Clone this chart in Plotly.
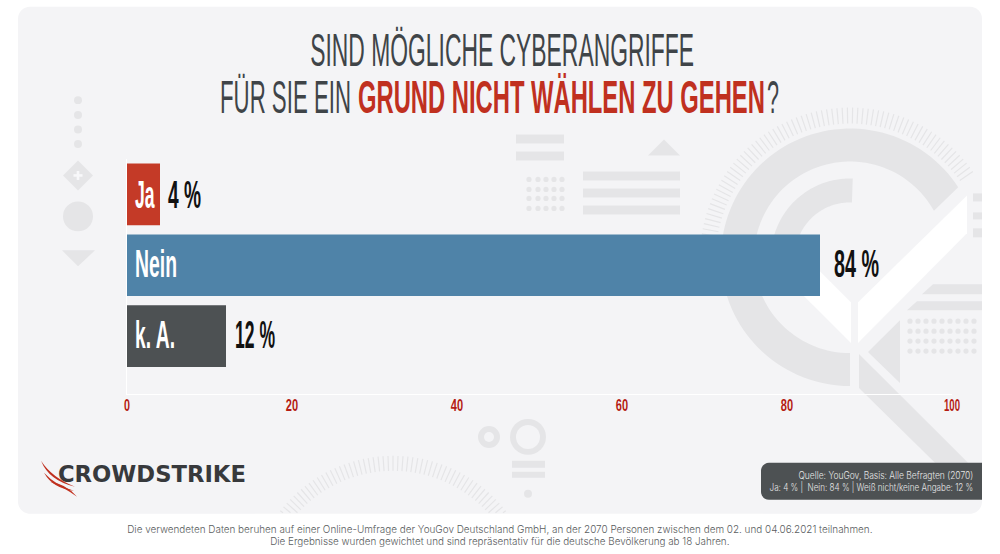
import json
import numpy as np
import plotly.graph_objects as go

W, H = 1000, 554

# chart data
categories = ['Ja', 'Nein', 'k. A.']
values = [4, 84, 12]
value_labels = ['4 %', '84 %', '12 %']
bar_colors = ['#c43a27', '#4f83a8', '#4d5153']
tick_vals = [0, 20, 40, 60, 80, 100]

# plot area in pixels
L, R, T, B = 127, 952, 158.5, 394

DECO = '#e5e5e7'
RED = '#c0301f'
GREY = '#3f4448'
COND = 'Liberation Sans'


def px(x):
    return (x - L) / (R - L)


def py(y):
    return (B - y) / (B - T)


def P(*pts):
    # closed polygon path from pixel points, paper coordinates
    return 'M' + ' L'.join(f'{px(x):.5f},{py(y):.5f}' for x, y in pts) + ' Z'


def ring(cx, cy, r_out, r_in, a0_out, a0_in, a1):
    # ring segment, angles in degrees, counter clockwise from a0 to a1
    out = [(cx + r_out * np.cos(np.radians(a)), cy - r_out * np.sin(np.radians(a)))
           for a in np.linspace(a0_out, a1, 90)]
    inn = [(cx + r_in * np.cos(np.radians(a)), cy - r_in * np.sin(np.radians(a)))
           for a in np.linspace(a1, a0_in, 90)]
    return P(*(out + inn))


def tick_fan(cx, cy, r_out, r_in, a0, a1, step, y_max=None):
    parts = []
    for a in np.arange(a0, a1, step):
        c, s = np.cos(np.radians(a)), np.sin(np.radians(a))
        if y_max is not None and cy - r_out * s > y_max:
            continue
        y2 = cy - r_in * s
        x2 = cx + r_in * c
        if y_max is not None and y2 > y_max:
            k = (cy - y_max) / s
            x2, y2 = cx + k * c, y_max
        parts.append(f'M{px(cx + r_out * c):.5f},{py(cy - r_out * s):.5f} L{px(x2):.5f},{py(y2):.5f}')
    return ' '.join(parts)


def rounded(x0, y0, x1, y1, rad, right=True):
    # rounded box, right=False leaves the right corners square
    k = rad * 0.45
    pts = f'M{px(x0 + rad)},{py(y0)} '
    if right:
        pts += f'L{px(x1 - rad)},{py(y0)} C{px(x1 - k)},{py(y0)} {px(x1)},{py(y0 + k)} {px(x1)},{py(y0 + rad)} '
        pts += f'L{px(x1)},{py(y1 - rad)} C{px(x1)},{py(y1 - k)} {px(x1 - k)},{py(y1)} {px(x1 - rad)},{py(y1)} '
    else:
        pts += f'L{px(x1)},{py(y0)} L{px(x1)},{py(y1)} '
    pts += f'L{px(x0 + rad)},{py(y1)} C{px(x0 + k)},{py(y1)} {px(x0)},{py(y1 - k)} {px(x0)},{py(y1 - rad)} '
    pts += f'L{px(x0)},{py(y0 + rad)} C{px(x0)},{py(y0 + k)} {px(x0 + k)},{py(y0)} {px(x0 + rad)},{py(y0)} Z'
    return pts


shapes = []


def fill(path, color=DECO):
    shapes.append(dict(type='path', path=path, xref='paper', yref='paper', fillcolor=color,
                       line=dict(width=0), layer='below'))


def stroke(path, color=DECO, width=1.2):
    shapes.append(dict(type='path', path=path, xref='paper', yref='paper',
                       line=dict(color=color, width=width), layer='below'))


def rect(x0, y0, x1, y1, color=DECO):
    fill(P((x0, y0), (x1, y0), (x1, y1), (x0, y1)), color)


def circle(cx, cy, r, color=DECO):
    shapes.append(dict(type='circle', xref='paper', yref='paper', x0=px(cx - r), x1=px(cx + r),
                       y0=py(cy + r), y1=py(cy - r), fillcolor=color, line=dict(width=0), layer='below'))


# card behind everything
fill(rounded(18, 6, 982, 514, 12), '#f4f4f6')

# left column of small icons
for y in [99.5, 114.5, 129, 143.5]:
    circle(78, y, 4)
fill(P((78, 160), (93, 175), (78, 190), (63, 175)))
rect(73.5, 173.7, 82.5, 176.3, '#f8f8fa')
rect(76.7, 170.5, 79.3, 179.5, '#f8f8fa')
circle(78, 216, 15)
fill(P((62, 250), (95, 250), (78, 266)))

# block above the bars
rect(516, 134, 564, 143)
rect(516, 151, 564, 160)
fill(P((648, 155), (680, 155), (664, 139)))
for y0 in [171, 188, 205]:
    rect(583, y0, 680, y0 + 9)
for y in [179, 189, 198, 208]:
    for x in [529, 538, 546, 554, 562]:
        circle(x, y, 2.6)

# big gauge on the right
stroke(tick_fan(850, 257, 150, 134, 35, 172, 2.0))
fill(ring(850, 257, 129, 96, 33, 29, 270))
fill(ring(850, 257, 79, 55, 88, 88, 195))
fill(P((967, 195), (967, 233), (858, 343), (858, 302)), '#ffffff')
fill(P((790, 282), (851, 343), (851, 302), (800, 251)), '#ffffff')
fill(P((900, 320), (900, 383), (868, 352)))
fill(P((859, 354), (968, 463), (935, 463), (859, 388)))
for y0, y1 in [(193, 201), (212, 219), (228, 237)]:
    rect(973, y0, 982, y1)
fill(P((922, 294), (933, 284), (982, 284), (982, 294)))
fill(P((907, 310), (917, 301), (982, 301), (982, 310)))
for y in [321, 331, 341, 351]:
    for x in range(910, 980, 8):
        circle(x, y, 2.6)

# lower middle decoration
stroke(tick_fan(393, 599, 143, 128, 20, 160, 2.0, y_max=513))
circle(489, 437, 11)
circle(489, 437, 5, '#f4f4f6')
circle(528, 437, 18)
circle(528, 437, 12, '#f4f4f6')
rect(512, 461, 545, 468)
rect(512, 472, 545, 478)
circle(528, 494, 4)

# source box
fill(rounded(761, 463, 982, 500, 8, right=False), '#4d5153')


def swoosh(x0, y0, cx, cy, x1, y1, w):
    return (f'M{px(x0)},{py(y0)} Q{px(cx)},{py(cy)} {px(x1)},{py(y1)} '
            f'Q{px(cx - w)},{py(cy + w)} {px(x0)},{py(y0)} Z')


# logo strokes
fill(swoosh(41, 461, 52, 478, 75, 487, 3), RED)
fill(swoosh(44, 473, 56, 486, 74, 491, 3), RED)
fill(swoosh(50, 482, 66, 484, 77, 497, 3), RED)

annotations = []
# text -> target width in px and the edge that stays put
fit = {}
# annotations sit about 2px inside their anchor
NUDGE = {'left': -2, 'right': 2, 'center': 0}


def note(text, x, y, size, color, family=COND, anchor='center', weight='normal', width=None):
    annotations.append(dict(text=text, x=px(x + NUDGE[anchor]), y=py(y), xref='paper', yref='paper', xanchor=anchor,
                            yanchor='middle', showarrow=False, align=anchor,
                            font=dict(family=family, size=size, color=color, weight=weight)))
    if width:
        fit[text] = [width, anchor]


note('SIND MÖGLICHE CYBERANGRIFFE', 502, 49, 46.5, GREY, width=384)
note('FÜR SIE EIN', 220, 96, 46.5, GREY, anchor='left', width=131)
note('GRUND NICHT WÄHLEN ZU GEHEN', 358, 96, 46.5, RED, anchor='left', weight='bold', width=407)
note('?', 767, 96, 46.5, GREY, anchor='left', width=12)

# labels in the bars and values next to them
value_gaps = [6, 12, 7]
row_shifts = [-1, 1, 1]
name_widths = [20, 42, 40]
value_widths = [33, 45, 40]
for cat, val, lab, gap, shift, nw, vw in zip(categories, values, value_labels, value_gaps, row_shifts, name_widths, value_widths):
    annotations.append(dict(text=cat, x=0, y=cat, xref='x', yref='y', xanchor='left', yanchor='middle',
                            xshift=6, yshift=shift, showarrow=False,
                            font=dict(family=COND, size=38, color='#ffffff', weight='bold')))
    annotations.append(dict(text=lab, x=val, y=cat, xref='x', yref='y', xanchor='left', yanchor='middle',
                            xshift=gap, yshift=shift, showarrow=False,
                            font=dict(family=COND, size=38, color='#111111', weight='bold')))
    fit[cat] = [nw, 'left']
    fit[lab] = [vw, 'left']

note('CROWDSTRIKE', 58, 474, 23.5, '#37393c', family='DejaVu Sans', anchor='left', weight='bold', width=188)
note('Quelle: YouGov, Basis: Alle Befragten (2070)', 973, 475, 10, '#e6e6e6', family='Inter', anchor='right', weight=300, width=175)
note('Ja: 4 % |  Nein: 84 % | Weiß nicht/keine Angabe: 12 %', 973, 487, 10, '#e6e6e6', family='Inter', anchor='right', weight=300, width=204)
note('Die verwendeten Daten beruhen auf einer Online-Umfrage der YouGov Deutschland GmbH, an der 2070 Personen zwischen dem 02. und 04.06.2021 teilnahmen.',
     500, 530, 10.5, '#5a5d60', family='Inter', weight=300, width=746)
note('Die Ergebnisse wurden gewichtet und sind repräsentativ für die deutsche Bevölkerung ab 18 Jahren.',
     500, 542, 10.5, '#5a5d60', family='Inter', weight=300, width=460)

tick_widths = {'0': [6, 'center'], '100': [16, 'center']}
for t in tick_vals[1:-1]:
    tick_widths[str(t)] = [12.3, 'center']

fig = go.Figure(go.Bar(y=categories, x=values, orientation='h', width=0.87,
                       marker=dict(color=bar_colors, line=dict(width=0)), showlegend=False))

fig.update_layout(
    width=W, height=H, margin=dict(l=L, r=W - R, t=T, b=H - B, pad=0), autosize=False,
    paper_bgcolor='#ffffff', plot_bgcolor='rgba(0,0,0,0)',
    shapes=shapes, annotations=annotations, showlegend=False,
    font=dict(family=COND),
)
fig.update_xaxes(range=[0, 100], tickvals=tick_vals, showgrid=False, zeroline=False,
                 showline=True, linecolor='#ffffff', linewidth=1, ticks='', ticklabelstandoff=-4,
                 tickfont=dict(family=COND, size=17, color='#b51c14', weight='bold'))
fig.update_yaxes(type='category', categoryorder='array', categoryarray=categories,
                 range=[2.817, -0.5], showticklabels=False, showgrid=False, zeroline=False, ticks='',
                 showline=True, linecolor='#ffffff', linewidth=1)

# the fonts here are wider than in the original, so squeeze each text to its width
post = """
document.body.style.margin = '0';
document.documentElement.style.overflow = 'hidden';
var gd = document.getElementById('{plot_id}');
var fit = %s, ticks = %s;
function squeeze(el, spec) {
    if (!spec) return;
    var b = el.getBBox();
    var sx = spec[0] / b.width;
    var cx = spec[1] === 'left' ? b.x : spec[1] === 'right' ? b.x + b.width : b.x + b.width / 2;
    var t = el.getAttribute('transform') || '';
    el.setAttribute('transform', t + ' translate(' + cx + ',0) scale(' + sx + ',1) translate(' + (-cx) + ',0)');
}
gd.querySelectorAll('.annotation-text').forEach(function (el) {
    squeeze(el, fit[el.getAttribute('data-unformatted')]);
});
gd.querySelectorAll('.xtick text').forEach(function (el) {
    squeeze(el, ticks[el.getAttribute('data-unformatted')]);
});
""" % (json.dumps(fit), json.dumps(tick_widths))

fig.write_html('out.html', post_script=post, config={'displayModeBar': False})
